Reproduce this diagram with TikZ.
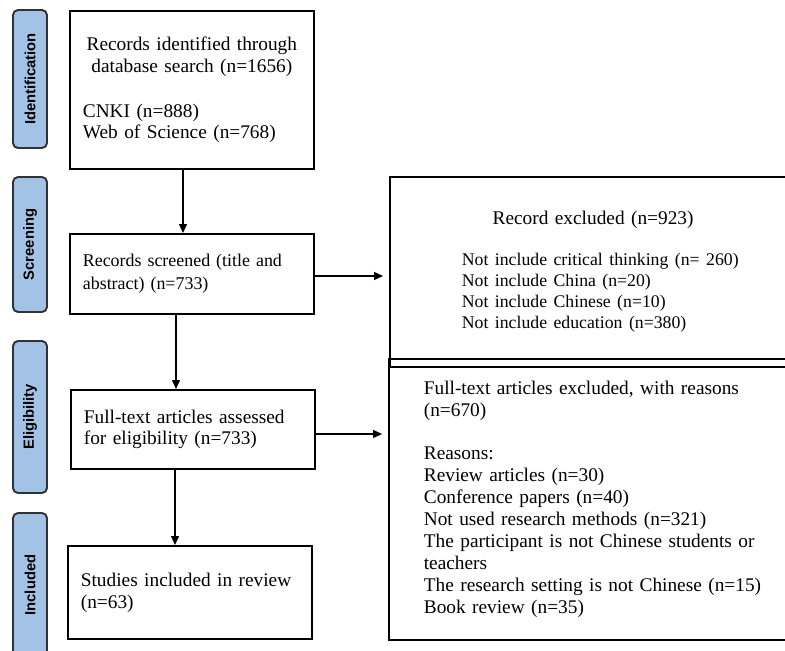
\documentclass[tikz,border=0pt]{standalone}
\usepackage{fontspec}
\setmainfont{Liberation Serif}
\setsansfont{Liberation Sans}
\usetikzlibrary{arrows.meta}
\definecolor{stagefill}{HTML}{A3C3E6}
\definecolor{stageline}{HTML}{303236}
\tikzset{
    stage/.style={draw=stageline, fill=stagefill, line width=1.1pt, rounded corners=0.1cm,
        rotate=90, minimum height=0.68cm, font=\sffamily\bfseries\fontsize{8.4}{10}\selectfont},
    box/.style={draw, line width=1pt, anchor=north west, inner xsep=0.26cm, text width=4.36cm,
        align=left, font=\fontsize{11}{12.5}\selectfont},
    arr/.style={-{Triangle[length=1.8mm,width=1.6mm]}, line width=0.8pt}
}
\newcommand{\smalltext}{\fontsize{10.1}{12.1}\selectfont}
\begin{document}
\begin{tikzpicture}[x=0.02cm, y=-0.02cm]
    \useasboundingbox (0,0) rectangle (785,650);
    % stages
    \node[stage, minimum width=2.76cm] (sIdent) at (30,79) {Identification};
    \node[stage, minimum width=2.70cm] (sScreen) at (30,244.5) {Screening};
    \node[stage, minimum width=3.04cm] (sElig) at (30,417) {Eligibility};
    \node[stage, minimum width=2.88cm] (sIncl) at (30,585) {Included};
    % boxes
    \node[box, minimum width=4.88cm, minimum height=3.16cm] (ident) at (69,10)
        {{\centering Records identified through\\database search (n=1656)\par}
         \vspace{13pt}
         CNKI (n=888)\\Web of Science (n=768)};
    \node[box, minimum width=4.88cm, minimum height=1.6cm, font=\fontsize{10.2}{13}\selectfont] (screen) at (69,233)
        {Records screened (title and\\abstract) (n=733)};
    \node[box, minimum width=4.86cm, minimum height=1.58cm] (elig) at (70,389)
        {Full-text articles assessed\\for eligibility (n=733)};
    \node[box, minimum width=4.88cm, minimum height=1.86cm] (incl) at (67,545)
        {Studies included in review\\(n=63)};
    \node[box, inner xsep=1.44cm, text width=5.25cm, minimum height=3.8cm] (excl) at (389,176)
        {{\centering Record excluded (n=923)\par}
         \vspace{11pt}
         {\smalltext
         \mbox{Not include critical thinking (n= 260)}\\
         \mbox{Not include China (n=20)}\\
         \mbox{Not include Chinese (n=10)}\\
         \mbox{Not include education (n=380)}\par}};
    \node[box, inner xsep=0.7cm, text width=7.5cm, minimum height=5.62cm] (fullexcl) at (388,358)
        {Full-text articles excluded, with reasons\\
         (n=670)\\[12pt]
         Reasons:\\
         Review articles (n=30)\\
         Conference papers (n=40)\\
         Not used research methods (n=321)\\
         The participant is not Chinese students or\\
         teachers\\
         The research setting is not Chinese (n=15)\\
         Book review (n=35)};
    % arrows
    \draw[arr] (ident.south -| 183,0) -- (screen.north -| 183,0);
    \draw[arr] (screen.south -| 176,0) -- (elig.north -| 176,0);
    \draw[arr] (elig.south -| 175,0) -- (incl.north -| 175,0);
    \draw[arr, shorten >=0.12cm] (screen.east |- 0,276) -- (excl.west |- 0,276);
    \draw[arr, shorten >=0.12cm] (elig.east |- 0,434) -- (fullexcl.west |- 0,434);
\end{tikzpicture}
\end{document}
